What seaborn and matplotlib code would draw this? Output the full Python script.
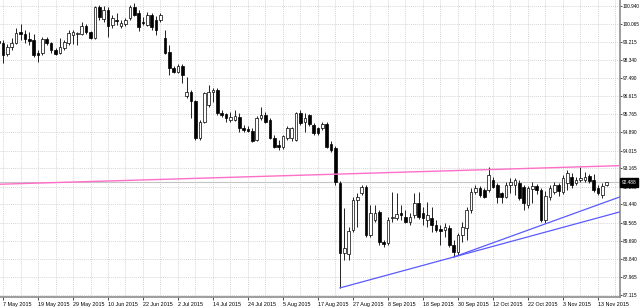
import numpy as np
import pandas as pd
import matplotlib
matplotlib.use("Agg")
import matplotlib.pyplot as plt
import matplotlib.transforms as mtransforms
from matplotlib.ticker import FixedLocator, FixedFormatter, MultipleLocator
import seaborn as sns

# ---------------- data (daily candles, bar index -1 .. 138) ----------------
bar_start = -1
opens = [99.26, 99.17, 98.64, 98.98, 99.17, 99.69, 99.60, 99.36, 99.31, 98.69,
         98.69, 99.36, 99.17, 98.83, 98.69, 98.93, 99.17, 99.55, 99.60, 99.60,
         99.98, 99.69, 99.41, 100.89, 100.32, 100.75, 100.03, 100.27, 99.98, 100.08,
         100.37, 100.89, 100.60, 100.17, 100.03, 100.51, 100.27, 100.27, 99.41, 98.74,
         97.97, 97.78, 98.06, 96.63, 96.82, 96.39, 94.62, 95.38, 96.20, 96.82,
         96.92, 95.81, 95.76, 95.48, 95.48, 95.62, 95.09, 95.05, 94.95, 94.52,
         95.57, 95.72, 95.48, 94.62, 94.28, 94.18, 94.62, 94.62, 94.52, 95.81,
         95.38, 95.72, 95.24, 95.09, 95.09, 95.29, 94.33, 94.14, 92.46, 89.10,
         89.06, 90.21, 91.64, 91.98, 92.27, 89.97, 90.69, 91.07, 89.63, 89.58,
         90.78, 90.78, 91.02, 90.83, 90.59, 90.93, 91.50, 91.02, 90.69, 90.78,
         90.45, 90.25, 90.21, 90.30, 89.49, 89.15, 89.97, 90.30, 91.16, 92.03,
         92.22, 92.12, 92.12, 92.60, 92.36, 91.98, 91.79, 92.36, 92.36, 92.46,
         92.27, 91.40, 92.17, 92.32, 92.12, 90.69, 91.79, 92.03, 92.36, 92.03,
         92.46, 92.75, 92.46, 92.60, 92.60, 92.79, 92.60, 92.22, 91.88, 92.36]
highs = [99.31, 99.31, 99.12, 99.41, 99.89, 100.08, 99.79, 99.69, 99.60, 98.83,
         99.45, 99.45, 99.22, 98.93, 99.41, 99.31, 99.79, 99.79, 99.69, 100.17,
         100.08, 99.74, 100.94, 100.99, 100.94, 100.89, 100.51, 100.60, 100.27, 100.37,
         100.99, 101.08, 100.75, 100.41, 100.65, 100.60, 100.46, 100.60, 99.79, 99.07,
         98.06, 98.16, 98.16, 97.54, 96.92, 96.44, 95.48, 96.82, 97.15, 97.01,
         97.01, 95.96, 95.81, 95.86, 95.96, 95.81, 95.24, 95.19, 95.09, 95.67,
         96.10, 95.86, 95.57, 94.76, 94.52, 94.76, 95.19, 95.14, 95.86, 95.96,
         95.81, 95.76, 95.33, 95.14, 95.38, 95.38, 94.47, 94.23, 92.56, 91.26,
         90.35, 91.79, 91.98, 92.36, 92.36, 91.40, 91.40, 91.16, 89.73, 90.83,
         92.03, 91.98, 91.40, 91.16, 91.02, 91.98, 92.03, 91.31, 91.55, 91.31,
         90.69, 90.45, 90.54, 90.45, 89.73, 90.06, 90.59, 91.31, 92.22, 92.36,
         92.32, 92.22, 93.23, 92.75, 92.46, 92.03, 92.51, 92.70, 92.70, 92.60,
         92.36, 92.32, 92.51, 92.41, 92.22, 92.08, 92.36, 92.51, 92.46, 92.84,
         93.08, 92.94, 92.75, 93.23, 92.99, 92.89, 92.89, 92.36, 92.46, 92.51]
lows = [99.12, 98.21, 98.54, 98.83, 99.12, 99.31, 99.17, 99.07, 98.50, 98.26,
        98.59, 99.07, 98.69, 98.59, 98.64, 98.83, 99.07, 99.12, 99.07, 99.55,
        99.60, 99.36, 99.36, 100.27, 100.17, 99.45, 99.89, 100.03, 99.89, 99.98,
        100.27, 100.46, 99.74, 100.03, 99.98, 99.79, 99.55, 100.17, 98.64, 97.63,
        97.73, 97.73, 97.25, 96.53, 95.57, 94.52, 94.52, 95.33, 96.10, 96.34,
        95.72, 95.62, 95.38, 95.38, 95.43, 94.90, 94.90, 94.90, 94.42, 94.47,
        95.48, 95.33, 94.57, 94.14, 94.04, 94.09, 94.52, 94.47, 94.47, 95.24,
        94.90, 95.19, 94.76, 94.76, 95.00, 94.14, 93.94, 92.36, 87.43, 88.77,
        88.77, 90.11, 90.35, 91.88, 89.87, 89.87, 90.59, 89.49, 89.39, 89.49,
        90.59, 90.69, 90.69, 90.54, 90.45, 90.78, 90.73, 90.45, 90.35, 90.11,
        90.11, 89.49, 89.87, 89.39, 88.91, 89.01, 89.63, 89.73, 91.02, 91.93,
        91.79, 91.74, 92.03, 92.22, 91.50, 91.50, 91.74, 91.98, 91.88, 91.64,
        91.16, 91.26, 91.50, 91.93, 90.59, 90.54, 91.64, 91.93, 91.84, 91.93,
        92.12, 92.22, 92.36, 92.51, 92.51, 92.46, 92.03, 91.88, 91.74, 92.32]
closes = [99.17, 98.59, 98.98, 99.17, 99.65, 99.60, 99.36, 99.26, 98.59, 98.59,
          99.36, 99.17, 98.83, 98.64, 98.98, 99.22, 99.65, 99.69, 99.65, 99.98,
          99.69, 99.41, 100.89, 100.41, 100.75, 99.98, 100.37, 100.22, 100.13, 100.27,
          100.89, 100.51, 99.93, 100.13, 100.51, 99.93, 99.79, 100.51, 98.69, 97.97,
          97.78, 98.06, 97.63, 96.82, 96.39, 94.62, 95.38, 96.77, 96.82, 96.92,
          95.81, 95.72, 95.57, 95.62, 95.67, 95.09, 95.00, 94.95, 94.47, 95.57,
          95.72, 95.38, 94.62, 94.18, 94.18, 94.71, 95.09, 95.09, 95.81, 95.33,
          95.57, 95.29, 94.86, 94.86, 95.29, 94.18, 94.04, 92.51, 89.10, 89.34,
          90.16, 91.64, 91.79, 92.27, 89.97, 91.02, 91.02, 89.63, 89.54, 90.69,
          90.83, 90.97, 90.93, 90.59, 90.83, 91.50, 90.83, 90.78, 90.93, 90.45,
          90.21, 90.16, 90.35, 89.49, 89.15, 89.97, 90.35, 91.16, 92.03, 92.22,
          91.88, 91.79, 92.84, 92.27, 91.79, 91.79, 92.36, 92.51, 92.60, 91.74,
          91.50, 92.22, 92.32, 92.12, 90.69, 91.84, 92.22, 92.36, 92.08, 92.70,
          92.94, 92.36, 92.60, 92.70, 92.75, 92.56, 92.12, 91.98, 92.32, 92.488]

x_tick_bars = [0, 8, 16, 24, 32, 40, 48, 56, 64, 72, 80, 88, 96, 104, 112, 120, 128, 136]
x_tick_labels = ["7 May 2015", "19 May 2015", "29 May 2015", "10 Jun 2015", "22 Jun 2015",
                 "2 Jul 2015", "14 Jul 2015", "24 Jul 2015", "5 Aug 2015", "17 Aug 2015",
                 "27 Aug 2015", "8 Sep 2015", "18 Sep 2015", "30 Sep 2015", "12 Oct 2015",
                 "22 Oct 2015", "3 Nov 2015", "13 Nov 2015"]
y_ticks = [100.940, 100.065, 99.215, 98.340, 97.490, 96.615, 95.765, 94.890, 94.015,
           93.165, 92.290, 91.440, 90.565, 89.690, 88.840, 87.965, 87.115]

# trend lines (bar index, price)
pink_x, pink_y = [-0.7, 141.1], [92.40, 93.29]
blue1_x, blue1_y = [77, 141.1], [87.43, 91.08]
blue2_x, blue2_y = [103, 141.1], [88.91, 91.80]
bid_price = closes[-1]

# ---------------- figure ----------------
sns.set_theme(style="white")
plt.rcParams["font.family"] = ["Liberation Sans", "DejaVu Sans"]

fig = plt.figure(figsize=(6.4, 3.08), dpi=100)
ax = fig.add_axes([0, 11 / 308, 620 / 640, 297 / 308])
ax.set_facecolor("white")

df = pd.DataFrame({"bar": np.arange(bar_start, bar_start + len(opens)),
                   "open": opens, "high": highs, "low": lows, "close": closes})
df["up"] = df["close"] >= df["open"]
df["bottom"] = df[["open", "close"]].min(axis=1)
df["height"] = (df["close"] - df["open"]).abs().clip(lower=0.025)

ax.axhline(bid_price, color="#c4c4c4", lw=0.8, zorder=1)

ax.vlines(df["bar"], df["low"], df["high"], color="black", lw=0.6, zorder=3)
up = df[df["up"]]
dn = df[~df["up"]]
ax.bar(up["bar"], up["height"], bottom=up["bottom"], width=0.62,
       facecolor="white", edgecolor="black", linewidth=0.5, zorder=4)
ax.bar(dn["bar"], dn["height"], bottom=dn["bottom"], width=0.62,
       facecolor="black", edgecolor="black", linewidth=0.5, zorder=4)

sns.lineplot(x=pink_x, y=pink_y, ax=ax, color="#ff6ec7", lw=1.0, zorder=5)
sns.lineplot(x=blue1_x, y=blue1_y, ax=ax, color="#5a5aff", lw=0.9, zorder=5)
sns.lineplot(x=blue2_x, y=blue2_y, ax=ax, color="#5a5aff", lw=0.9, zorder=5)

ax.set_xlim(-0.686, 141.03)
ax.set_ylim(86.996, 101.2275)

# axes styling
for s in ["left", "top"]:
    ax.spines[s].set_visible(False)
for s in ["right", "bottom"]:
    ax.spines[s].set_visible(True)
    ax.spines[s].set_color("#8c8c8c")
    ax.spines[s].set_linewidth(1.2)

ax.yaxis.tick_right()
ax.set_yticks(y_ticks)
ax.set_yticklabels([f"{v:.3f}" for v in y_ticks])
ax.xaxis.set_major_locator(FixedLocator(x_tick_bars))
ax.xaxis.set_major_formatter(FixedFormatter(x_tick_labels))
ax.xaxis.set_minor_locator(MultipleLocator(4))
ax.tick_params(axis="y", which="major", right=True, left=False, length=1.5, width=0.5,
               labelsize=3.45, pad=0.6, colors="black")
ax.tick_params(axis="x", which="major", bottom=True, length=2.5, width=0.5,
               labelsize=3.9, pad=0.8, colors="black")
ax.tick_params(axis="x", which="minor", length=0)
for lab in ax.get_xticklabels():
    lab.set_horizontalalignment("left")

ax.grid(True, axis="y", which="major", color="#c8c8c8", linestyle=(0, (1.5, 1.5)), lw=0.5)
ax.grid(True, axis="x", which="both", color="#c8c8c8", linestyle=(0, (1.5, 1.5)), lw=0.5)
ax.set_axisbelow(True)
ax.set_xlabel("")
ax.set_ylabel("")
if ax.get_legend():
    ax.get_legend().remove()

trans = mtransforms.blended_transform_factory(ax.transAxes, ax.transData)
ax.text(1.003, bid_price, f"{bid_price:.3f}", transform=trans, ha="left", va="center",
        fontsize=3.45, color="white", zorder=10, clip_on=False,
        bbox=dict(boxstyle="square,pad=0.35", fc="black", ec="black"))

fig.savefig("out.png", dpi=100, facecolor="white")
